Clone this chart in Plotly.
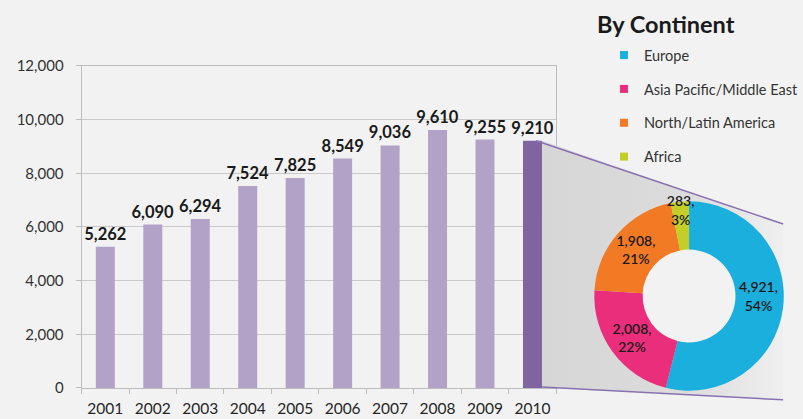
import numpy as np
import plotly.graph_objects as go

# ---- data ----
years = ["2001", "2002", "2003", "2004", "2005", "2006", "2007", "2008", "2009", "2010"]
totals = [5262, 6090, 6294, 7524, 7825, 8549, 9036, 9610, 9255, 9210]
continents = ["Europe", "Asia Pacific/Middle East", "North/Latin America", "Africa"]
continent_values = [4921, 2008, 1908, 283]
y_ticks = [0, 2000, 4000, 6000, 8000, 10000, 12000]

# ---- styles ----
W, H = 803, 419
FONT = "Lato"
BG = "#f2f2f2"
bar_colors = ["#b3a2c7"] * (len(years) - 1) + ["#8064a2"]
pie_colors = ["#1aafdc", "#ea2e7b", "#f27a24", "#c3cf28"]


def ry(y):
    """layout y (px from top) for a wanted on-screen y"""
    return (y - 7.7) / 0.963


# main plot area in pixels
PL, PR, PT, PB = 82, 559, ry(64), ry(388)
BARGAP = 0.6
YMAX = 12000

# donut geometry (pixels)
CX, CY, R, HOLE = 692.5, ry(295.5), 99, 0.49

fig = go.Figure()

fig.add_trace(go.Bar(
    x=years, y=totals,
    marker=dict(color=bar_colors, line=dict(width=0)),
    texttemplate="<b>%{y:,}</b>", textposition="outside",
    textfont=dict(family=FONT, size=16.5, color="#1a1a1a"),
    cliponaxis=False, showlegend=False, hoverinfo="x+y",
))

# connector shading from the last bar to the donut (pixel overlay axis)
n = len(years)
step = (PR - PL) / n
last_cx = PL + (n - 0.5) * step
bar_right = last_cx + (1 - BARGAP) / 2 * step
bar_top = PB - totals[-1] / YMAX * (PB - PT)
end_x = 787
poly_x = [bar_right, end_x, end_x, bar_right, bar_right]
poly_y = [bar_top, ry(223), ry(400), PB - 1, bar_top]
fig.add_trace(go.Scatter(
    x=poly_x, y=poly_y, xaxis="x2", yaxis="y2",
    mode="lines", fill="toself",
    fillgradient=dict(type="horizontal",
                      colorscale=[[0, "#d6d6d6"], [0.6, "#dcdcdc"], [1, "#efefef"]]),
    line=dict(width=0), showlegend=False, hoverinfo="skip",
))
# background disc showing through the donut hole
t = np.linspace(0, 2 * np.pi, 121)
fig.add_trace(go.Scatter(
    x=CX + R * HOLE * 1.02 * np.cos(t), y=CY + R * HOLE * 1.02 * np.sin(t),
    xaxis="x2", yaxis="y2", mode="lines", fill="toself",
    fillcolor=BG, line=dict(width=0), showlegend=False, hoverinfo="skip",
))
fig.add_trace(go.Scatter(
    x=[bar_right - 6, end_x], y=[bar_top, ry(223)], xaxis="x2", yaxis="y2",
    mode="lines", line=dict(color="#8a70b0", width=1.5),
    showlegend=False, hoverinfo="skip",
))
fig.add_trace(go.Scatter(
    x=[bar_right, end_x], y=[PB - 1, ry(400)], xaxis="x2", yaxis="y2",
    mode="lines", line=dict(color="#8a70b0", width=1.5),
    showlegend=False, hoverinfo="skip",
))

# donut
fig.add_trace(go.Pie(
    labels=continents, values=continent_values,
    hole=HOLE, sort=False, direction="clockwise", rotation=0,
    marker=dict(colors=pie_colors, line=dict(width=0)),
    texttemplate="%{value:,},<br>%{percent:.0%}",
    textposition="inside", insidetextorientation="horizontal",
    textfont=dict(family=FONT, size=14, color="#1a1a1a", weight=600),
    domain=dict(x=[(CX - R) / W, (CX + R) / W], y=[1 - (CY + R) / H, 1 - (CY - R) / H]),
    showlegend=False,
))

# legend entries
for name, col in zip(continents, pie_colors):
    fig.add_trace(go.Scatter(
        x=[None], y=[None], mode="markers", name=name, legendgroup=name,
        marker=dict(symbol="square", size=8, color=col),
    ))

fig.update_layout(
    width=W, height=H,
    margin=dict(l=0, r=0, t=0, b=0),
    paper_bgcolor=BG,
    plot_bgcolor="rgba(0,0,0,0)",
    bargap=BARGAP,
    font=dict(family=FONT, color="#333333"),
    uniformtext=dict(minsize=14, mode="show"),
    xaxis=dict(
        domain=[PL / W, PR / W], type="category",
        showgrid=False, showline=True, linecolor="#bdbdbd", linewidth=1, mirror=True,
        ticks="outside", tickson="boundaries", ticklen=5, tickcolor="#bdbdbd",
        tickfont=dict(family=FONT, size=15.5, color="#262626"),
        ticklabelstandoff=6,
    ),
    yaxis=dict(
        domain=[1 - PB / H, 1 - PT / H], range=[0, YMAX],
        tickvals=y_ticks, tickformat=",",
        showgrid=True, gridcolor="#c9c9c9", gridwidth=1,
        showline=True, linecolor="#bdbdbd", linewidth=1, mirror=True,
        ticks="outside", ticklen=5, tickcolor="#bdbdbd",
        tickfont=dict(family=FONT, size=15, color="#333333"),
        ticklabelstandoff=9, zeroline=False,
    ),
    xaxis2=dict(domain=[0, 1], range=[0, W], visible=False, anchor="y2",
                fixedrange=True),
    yaxis2=dict(domain=[0, 1], range=[H, 0], visible=False, anchor="x2",
                fixedrange=True),
    legend=dict(
        x=607 / W, y=1 - ry(37) / H, xanchor="left", yanchor="top",
        bgcolor="rgba(0,0,0,0)", tracegroupgap=12,
        font=dict(family=FONT, size=14.5, color="#333333"),
        itemclick=False,
    ),
    annotations=[dict(
        text="<b>By Continent</b>", x=598 / W, y=1 - ry(22) / H,
        xref="paper", yref="paper", xanchor="left", yanchor="middle",
        showarrow=False, font=dict(family=FONT, size=23.5, color="#1a1a1a"),
    )],
)

fig.write_html("out.html")
